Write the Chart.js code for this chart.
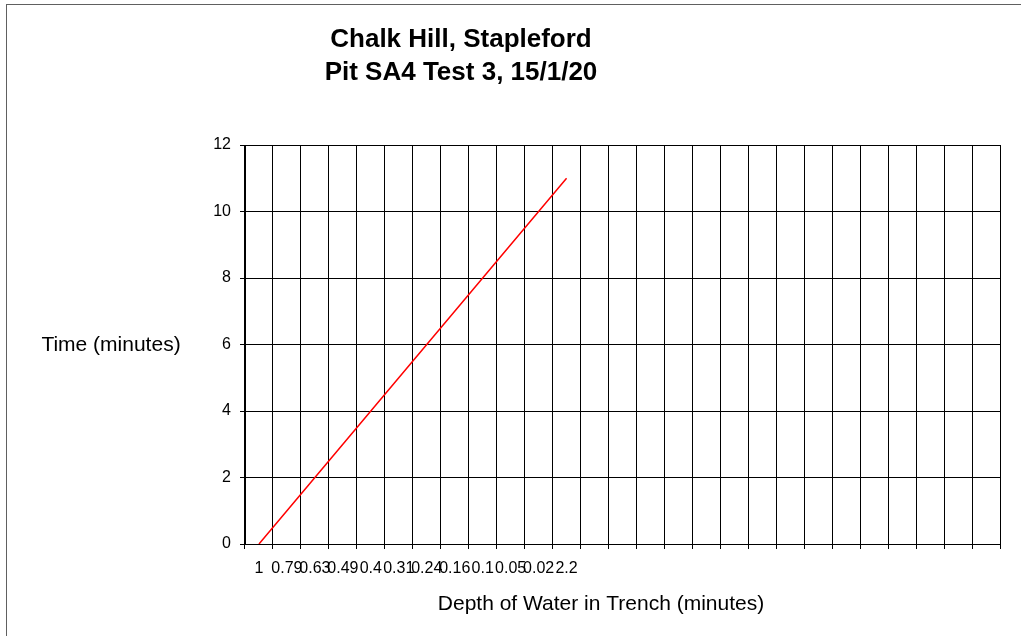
<!DOCTYPE html>
<html>
<head>
<meta charset="utf-8">
<script src="https://cdn.jsdelivr.net/npm/chart.js@4/dist/chart.umd.min.js"></script>
<style>
  body { margin: 0; background: #fff; }
  canvas { display: block; }
</style>
</head>
<body>
<canvas id="graficoTrincheira" width="1021" height="636"></canvas>
<script>
// ---- dados (eixo de categorias com 27 posições)
const profundidades = ['1', '0.79', '0.63', '0.49', '0.4', '0.31', '0.24', '0.16', '0.1', '0.05', '0.02', '2.2',
    '', '', '', '', '', '', '', '', '', '', '', '', '', '', ''];
const tempos = [0, 1, 2, 3, 4, 5, 6, 7, 8, 9, 10, 11];
const ticksY = [0, 2, 4, 6, 8, 10, 12];

const tituloLinhas = ['Chalk Hill, Stapleford', 'Pit SA4 Test 3, 15/1/20'];
const tituloX = 'Depth of Water in Trench (minutes)';
const tituloY = 'Time (minutes)';

const fonte = 'Arial, "Liberation Sans", sans-serif';

// textos soltos desenhados como no Excel (título fora do centro, eixo Y na horizontal)
const textosPlugin = {
    id: 'textosExcel',
    afterDraw(chart) {
        const c = chart.ctx;
        c.save();
        // borda externa da área do gráfico
        c.strokeStyle = '#606060';
        c.lineWidth = 1;
        c.strokeRect(6.5, 4.5, 1200, 1000);

        c.fillStyle = '#000';
        c.textAlign = 'center';
        c.textBaseline = 'middle';
        c.font = 'bold 26px ' + fonte;
        tituloLinhas.forEach((linha, i) => c.fillText(linha, 461, 40 + i * 33));

        c.font = '21px ' + fonte;
        c.fillText(tituloX, 601, 604);
        c.fillText(tituloY, 111, 345);
        c.restore();
    }
};

const ctx = document.getElementById('graficoTrincheira').getContext('2d');
let graficoTrincheira = new Chart(ctx, {
    type: 'line',
    data: {
        labels: profundidades,
        datasets: [{
            label: 'Time',
            data: tempos,
            borderColor: '#ff0000',
            borderWidth: 1.5,
            pointRadius: 0,
            tension: 0,
            fill: false
        }]
    },
    options: {
        responsive: false,
        animation: false,
        devicePixelRatio: 1,
        layout: {
            padding: { top: 145, right: 21, left: 0, bottom: 0 }
        },
        plugins: {
            legend: { display: false },
            tooltip: { enabled: false },
            title: { display: false }
        },
        scales: {
            x: {
                type: 'category',
                offset: true,
                afterFit: (escala) => { escala.height = 92; },
                grid: {
                    offset: true,
                    color: '#000',
                    lineWidth: 1,
                    tickLength: 5,
                    tickColor: '#000'
                },
                border: { color: '#000', width: 1 },
                ticks: {
                    autoSkip: false,
                    maxRotation: 0,
                    minRotation: 0,
                    padding: 10,
                    color: '#000',
                    font: { family: fonte, size: 16 }
                }
            },
            y: {
                min: 0,
                max: 12,
                afterFit: (escala) => { escala.width = 245; },
                afterBuildTicks: (escala) => {
                    escala.ticks = ticksY.map(v => ({ value: v }));
                },
                grid: {
                    color: '#000',
                    lineWidth: 1,
                    tickLength: 5,
                    tickColor: '#000'
                },
                border: { color: '#000', width: 1 },
                ticks: {
                    padding: 9,
                    color: '#000',
                    font: { family: fonte, size: 16 }
                }
            }
        }
    },
    plugins: [textosPlugin]
});
</script>
</body>
</html>
